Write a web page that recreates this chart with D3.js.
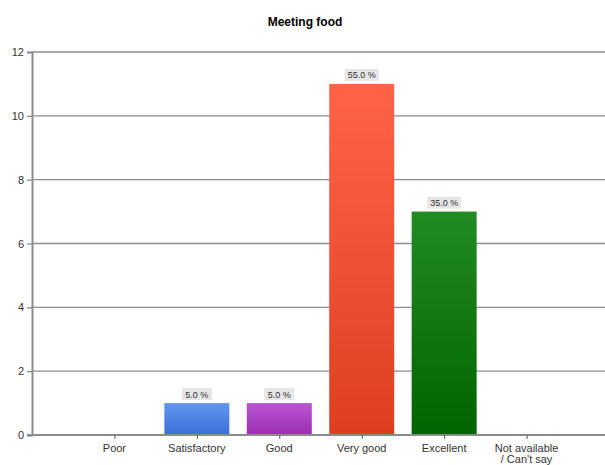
<!DOCTYPE html>
<html>
<head>
<meta charset="utf-8">
<script src="https://cdn.jsdelivr.net/npm/d3@7"></script>
<style>
  body { margin: 0; background: #fff; }
  svg { display: block; font-family: "Liberation Sans", Arial, sans-serif; }
</style>
</head>
<body>
<script>
var categories = ["Poor", "Satisfactory", "Good", "Very good", "Excellent", "Not available\n/ Can't say"];
var counts = [0, 1, 1, 11, 7, 0];
var percents = ["", "5.0 %", "5.0 %", "55.0 %", "35.0 %", ""];
var yTicks = [0, 2, 4, 6, 8, 10, 12];
var colorsTop = ["#6495ed", "#6495ed", "#ba55d3", "#ff6347", "#228b22", "#6495ed"];
var colorsBottom = ["#3a6fd8", "#3a6fd8", "#9a2db2", "#dd3f20", "#006400", "#3a6fd8"];

var w = 605, h = 465;
var padLeft = 32, padRight = 609, plotTop = 52, plotBottom = 435;

var svg = d3.select("body").append("svg")
  .attr("width", w)
  .attr("height", h);

var defs = svg.append("defs");
counts.forEach(function(d, i) {
  var g = defs.append("linearGradient")
    .attr("id", "grad" + i)
    .attr("x1", 0).attr("y1", 0).attr("x2", 0).attr("y2", 1);
  g.append("stop").attr("offset", "0%").attr("stop-color", colorsTop[i]);
  g.append("stop").attr("offset", "100%").attr("stop-color", colorsBottom[i]);
});

var xScale = d3.scaleLinear().domain([0, 7]).range([padLeft, padRight]);
var yScale = d3.scaleLinear().domain([0, 12]).range([plotBottom, plotTop]);
var barW = 65;

svg.append("text")
  .attr("x", 305).attr("y", 26)
  .attr("text-anchor", "middle")
  .attr("font-size", 12).attr("font-weight", "bold")
  .text("Meeting food");

// gridlines
svg.selectAll("line.grid")
  .data(yTicks.slice(1))
  .enter().append("line")
  .attr("x1", padLeft).attr("x2", w)
  .attr("y1", function(d) { return yScale(d); })
  .attr("y2", function(d) { return yScale(d); })
  .attr("stroke", "#8c8c8c").attr("stroke-width", 1.3);

// bars
svg.selectAll("rect.bar")
  .data(counts)
  .enter().append("rect")
  .attr("x", function(d, i) { return xScale(i + 1) - barW / 2; })
  .attr("y", function(d) { return yScale(d); })
  .attr("width", barW)
  .attr("height", function(d) { return plotBottom - yScale(d); })
  .attr("fill", function(d, i) { return "url(#grad" + i + ")"; });

// value labels
var labels = svg.selectAll("g.lbl")
  .data(counts.map(function(d, i) { return {v: d, i: i, t: percents[i]}; }).filter(function(d) { return d.v > 0; }))
  .enter().append("g");
labels.append("rect")
  .attr("x", function(d) { return xScale(d.i + 1) - (d.t.length > 5 ? 17 : 15); })
  .attr("y", function(d) { return yScale(d.v) - 15; })
  .attr("width", function(d) { return d.t.length > 5 ? 34 : 30; })
  .attr("height", 12)
  .attr("fill", "#e6e6e6");
labels.append("text")
  .attr("x", function(d) { return xScale(d.i + 1); })
  .attr("y", function(d) { return yScale(d.v) - 5.5; })
  .attr("text-anchor", "middle")
  .attr("font-size", 9).attr("fill", "#333")
  .text(function(d) { return d.t; });

// y axis
var yAxis = d3.axisLeft(yScale).tickValues(yTicks).tickSize(5).tickPadding(3);
var ya = svg.append("g")
  .attr("transform", "translate(" + padLeft + ",0)")
  .call(yAxis);
ya.select(".domain").attr("stroke", "#8c8c8c").attr("stroke-width", 2);
ya.selectAll(".tick line").attr("stroke", "#8c8c8c").attr("stroke-width", 1.3);
ya.selectAll(".tick text").attr("font-size", 11).attr("fill", "#333")
  .attr("font-family", "Liberation Sans, Arial, sans-serif");

// x axis
var xAxis = d3.axisBottom(xScale).tickValues([1, 2, 3, 4, 5, 6]).tickSize(4).tickFormat("");
var xa = svg.append("g")
  .attr("transform", "translate(0," + plotBottom + ")")
  .call(xAxis);
xa.select(".domain").attr("stroke", "#8c8c8c").attr("stroke-width", 2).attr("d", "M" + (padLeft - 5) + ",0H" + w);
xa.selectAll(".tick line").attr("stroke", "#555").attr("stroke-width", 1);

categories.forEach(function(c, i) {
  var t = svg.append("text")
    .attr("x", xScale(i + 1))
    .attr("y", plotBottom + 17)
    .attr("text-anchor", "middle")
    .attr("font-size", 11).attr("fill", "#333");
  c.split("\n").forEach(function(line, k) {
    t.append("tspan").attr("x", xScale(i + 1)).attr("dy", k === 0 ? 0 : 11).text(line);
  });
});
</script>
</body>
</html>
